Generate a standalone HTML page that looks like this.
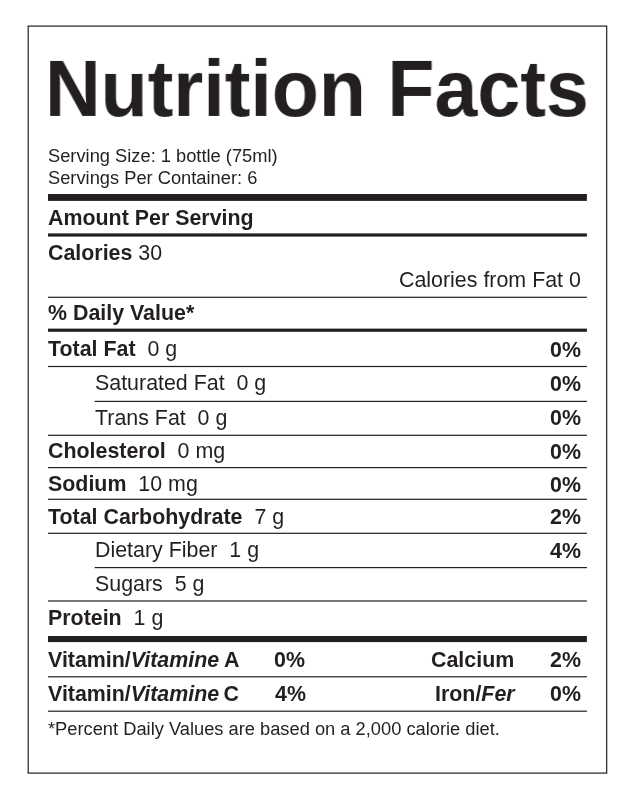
<!DOCTYPE html>
<html lang="en"><head><meta charset="utf-8"><title>Nutrition Facts</title>
<style>
html,body{margin:0;padding:0;background:#fff;}
body{width:635px;height:800px;position:relative;overflow:hidden;font-family:"Liberation Sans",Arial,Helvetica,sans-serif;color:#231f20;}
svg{position:absolute;left:0;top:0;}
.t{position:absolute;white-space:nowrap;line-height:1;margin:0;font-weight:normal;font-size:21.4px;will-change:transform;transform:scale(1,1.04);}
.s{font-size:18.3px;}
.l{transform-origin:0 84.65%;}
.r{transform-origin:100% 84.65%;}
h1.t{left:45px;top:49px;font-size:79px;transform:scale(0.9755,1.015);}
.b{font-weight:bold;}
i{font-style:italic;}
</style></head><body>
<svg width="635" height="800" viewBox="0 0 635 800">
<rect x="28.2" y="26.1" width="578.5" height="747.0" fill="none" stroke="#231f20" stroke-width="1.2"/>
<g fill="#231f20">
<rect x="48.0" y="194.00" width="538.90" height="6.90"/>
<rect x="48.0" y="233.40" width="538.90" height="3.20"/>
<rect x="48.0" y="296.70" width="538.90" height="1.20"/>
<rect x="48.0" y="328.60" width="538.90" height="3.20"/>
<rect x="48.0" y="365.90" width="538.90" height="1.20"/>
<rect x="94.6" y="400.80" width="492.30" height="1.20"/>
<rect x="48.0" y="434.70" width="538.90" height="1.20"/>
<rect x="48.0" y="467.00" width="538.90" height="1.20"/>
<rect x="48.0" y="498.70" width="538.90" height="1.20"/>
<rect x="48.0" y="532.70" width="538.90" height="1.20"/>
<rect x="94.6" y="567.00" width="492.30" height="1.20"/>
<rect x="48.0" y="600.40" width="538.90" height="1.20"/>
<rect x="48.0" y="636.00" width="538.90" height="6.10"/>
<rect x="48.0" y="676.20" width="538.90" height="1.20"/>
<rect x="48.0" y="710.60" width="538.90" height="1.20"/>
</g>
</svg>
<h1 class="t b l">Nutrition Facts</h1>
<div class="t s l" style="top:147.11px;left:47.6px;">Serving Size: 1 bottle (75ml)</div>
<div class="t s l" style="top:168.51px;left:47.6px;">Servings Per Container: 6</div>
<div class="t b l" style="top:207.58px;left:47.9px;">Amount Per Serving</div>
<div class="t l" style="top:242.98px;left:47.6px;"><b>Calories</b> 30</div>
<div class="t r" style="top:269.78px;right:53.8px;">Calories from Fat 0</div>
<div class="t b l" style="top:302.68px;left:47.6px;">% Daily Value*</div>
<div class="t l" style="top:338.88px;left:47.6px;"><b>Total Fat</b>&nbsp; 0 g</div>
<div class="t b r" style="top:339.88px;right:53.6px;">0%</div>
<div class="t l" style="top:373.18px;left:95.0px;">Saturated Fat&nbsp; 0 g</div>
<div class="t b r" style="top:373.88px;right:53.6px;">0%</div>
<div class="t l" style="top:407.78px;left:95.0px;">Trans Fat&nbsp; 0 g</div>
<div class="t b r" style="top:408.28px;right:53.6px;">0%</div>
<div class="t l" style="top:441.28px;left:47.6px;"><b>Cholesterol</b>&nbsp; 0 mg</div>
<div class="t b r" style="top:442.08px;right:53.6px;">0%</div>
<div class="t l" style="top:473.88px;left:47.6px;"><b>Sodium</b>&nbsp; 10 mg</div>
<div class="t b r" style="top:474.68px;right:53.6px;">0%</div>
<div class="t l" style="top:506.98px;left:47.6px;"><b>Total Carbohydrate</b>&nbsp; 7 g</div>
<div class="t b r" style="top:506.98px;right:53.6px;">2%</div>
<div class="t l" style="top:540.38px;left:95.0px;">Dietary Fiber&nbsp; 1 g</div>
<div class="t b r" style="top:541.18px;right:53.6px;">4%</div>
<div class="t l" style="top:574.08px;left:95.0px;">Sugars&nbsp; 5 g</div>
<div class="t l" style="top:608.08px;left:47.6px;"><b>Protein</b>&nbsp; 1 g</div>
<div class="t b l" style="top:650.18px;left:47.6px;">Vitamin/<i>Vitamine</i><span style="letter-spacing:-1.2px"> </span>A</div>
<div class="t b l" style="top:650.38px;left:273.6px;">0%</div>
<div class="t b l" style="top:650.38px;left:431.0px;">Calcium</div>
<div class="t b r" style="top:650.38px;right:54.4px;">2%</div>
<div class="t b l" style="top:684.08px;left:47.6px;">Vitamin/<i>Vitamine</i><span style="letter-spacing:-1.6px"> </span>C</div>
<div class="t b l" style="top:683.88px;left:274.8px;">4%</div>
<div class="t b l" style="top:683.78px;left:435.0px;">Iron/<i>Fer</i></div>
<div class="t b r" style="top:683.78px;right:54.4px;">0%</div>
<div class="t s l" style="top:719.61px;left:48.2px;">*Percent Daily Values are based on a 2,000 calorie diet.</div>
</body></html>
